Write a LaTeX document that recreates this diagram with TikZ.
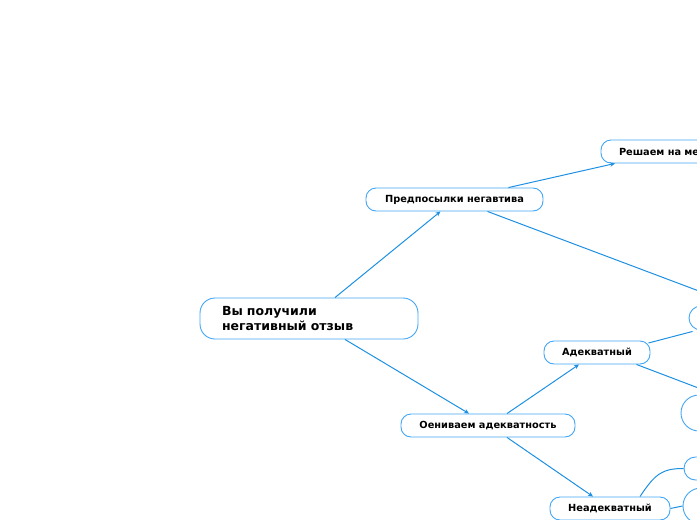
\documentclass[tikz,border=0pt]{standalone}
\usepackage{fontspec}
\setmainfont{DejaVu Sans}
\usetikzlibrary{arrows.meta}
\definecolor{edge}{RGB}{30,144,226}
\definecolor{border}{RGB}{66,165,245}
\tikzset{
  topic/.style={draw=border, line width=0.9pt, rounded corners=10pt, fill=white,
    minimum height=23pt, inner sep=0pt, font=\bfseries\fontsize{9.8}{11}\selectfont},
  link/.style={draw=edge, line width=1pt},
  arr/.style={link, -{Stealth[length=5pt,width=4.5pt]}}
}
\begin{document}
\begin{tikzpicture}[x=1pt,y=-1pt]
\useasboundingbox (0,0) rectangle (697,520);
\clip (0,0) rectangle (697,520);
% nodes
\node[topic, rounded corners=15pt, minimum width=218pt, minimum height=41pt, text width=174pt, align=left,
  font=\bfseries\fontsize{12.5}{15.5}\selectfont] (root) at (309,318.5) {Вы получили\\негативный отзыв};
\node[topic, minimum width=177pt] (pred) at (454.5,199.5) {Предпосылки негавтива};
\node[topic, minimum width=200pt, text width=164pt, align=left] (resh) at (701,151.5) {Решаем на ме};
\node[topic, minimum width=106pt] (adek) at (597,352.5) {Адекватный};
\node[topic, minimum width=174pt] (oen) at (488,425.5) {Оениваем адекватность};
\node[topic, minimum width=120pt] (nead) at (610,508.5) {Неадекватный};
\node[topic, minimum width=100pt, minimum height=24pt, rounded corners=12pt] (r1) at (739,318) {};
\node[topic, minimum width=100pt, minimum height=36pt, rounded corners=18pt] (r2) at (731,413) {};
\node[topic, minimum width=100pt, minimum height=23pt, rounded corners=11.5pt] (r3) at (734,468.5) {};
\node[topic, minimum width=100pt, minimum height=36pt, rounded corners=18pt] (r4) at (733,506) {};
\coordinate (off1) at (760,314);
\coordinate (off2) at (730,400);
% connectors
\draw[arr] ([xshift=26pt]root.north) -- ([xshift=-14pt]pred.south);
\draw[arr] ([xshift=54pt]pred.north) -- ([xshift=-86pt]resh.south);
\draw[link] ([xshift=33pt]pred.south) -- (off1);
\draw[arr] ([xshift=36pt]root.south) -- ([xshift=-19pt]oen.north);
\draw[arr] ([xshift=19pt]oen.north) -- ([xshift=-18pt]adek.south);
\draw[arr] ([xshift=19pt]oen.south) -- ([xshift=-17pt]nead.north);
\draw[link] ([xshift=-2pt,yshift=9.5pt]adek.east) -- ([xshift=4pt,yshift=-1pt]r1.south west);
\draw[link] ([xshift=-14pt]adek.south east) -- (off2);
\draw[link] ([xshift=30pt]nead.north) .. controls (655,474) and (662,468.5) .. (r3.west);
\draw[link] (nead.east) -- (r4.west);
\end{tikzpicture}
\end{document}
